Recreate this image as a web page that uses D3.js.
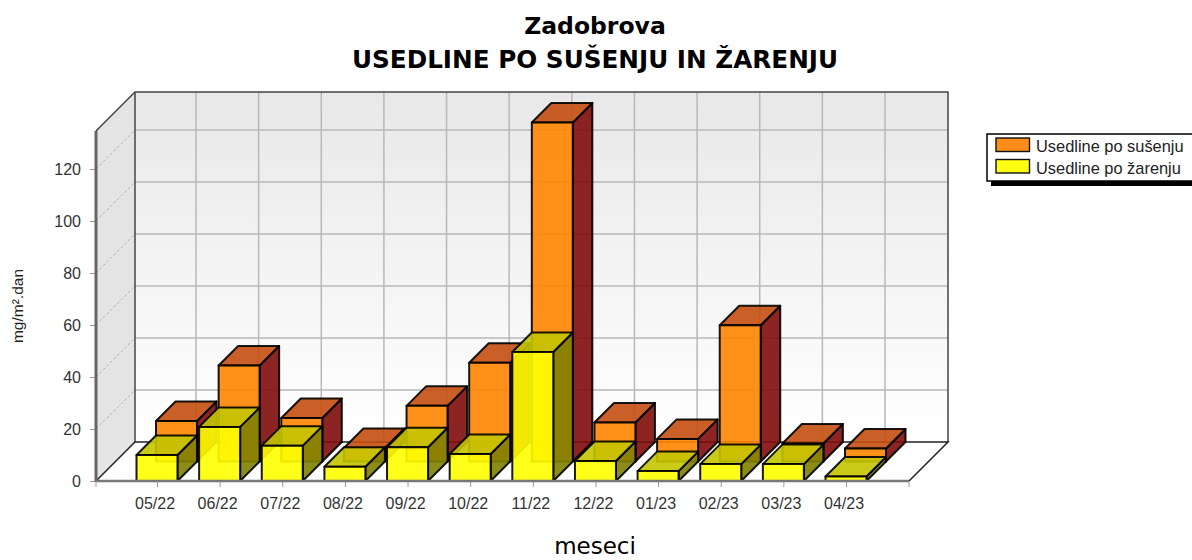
<!DOCTYPE html>
<html>
<head>
<meta charset="utf-8">
<script src="https://cdnjs.cloudflare.com/ajax/libs/d3/7.8.5/d3.min.js"></script>
<style>
html, body { margin: 0; padding: 0; background: #fff; overflow: hidden; }
svg { display: block; }
.tick text { font-family: "Liberation Sans", sans-serif; font-size: 16px; fill: #333; }
</style>
</head>
<body>
<svg width="1192" height="560"></svg>
<script>
var months = ["05/22", "06/22", "07/22", "08/22", "09/22", "10/22", "11/22", "12/22", "01/23", "02/23", "03/23", "04/23"];
var susenje = [15.6, 36.9, 16.7, 5.2, 21.4, 38, 130.4, 15, 8.7, 52.4, 6.9, 5];
var zarenje = [10, 20.8, 13.6, 5.5, 13, 10.4, 49.6, 7.7, 3.8, 6.5, 6.5, 1.7];
var yTicks = [0, 20, 40, 60, 80, 100, 120];
var seriesNames = ["Usedline po sušenju", "Usedline po žarenju"];

function main() {
    var svg = d3.select("svg");

    var left = 96, right = 909, bottom = 481, top = 131, depth = 39;
    var barWidth = 41;

    var x = d3.scalePoint().domain(months).range([157, 846]);
    var y = d3.scaleLinear().domain([0, 134.6]).range([bottom, top]);

    var defs = svg.append("defs");
    var grad = defs.append("linearGradient")
        .attr("id", "wall")
        .attr("x1", 0).attr("y1", 0).attr("x2", 0).attr("y2", 1);
    grad.append("stop").attr("offset", "0%").attr("stop-color", "#e8e8e8");
    grad.append("stop").attr("offset", "100%").attr("stop-color", "#ffffff");

    // back wall, left wall, floor
    svg.append("rect")
        .attr("x", left + depth).attr("y", top - depth)
        .attr("width", right - left).attr("height", bottom - top)
        .attr("fill", "url(#wall)");
    svg.append("path")
        .attr("d", poly([[left, top], [left + depth, top - depth], [left + depth, bottom - depth], [left, bottom]]))
        .attr("fill", "#e4e4e4");
    svg.append("path")
        .attr("d", poly([[left, bottom], [left + depth, bottom - depth], [right + depth, bottom - depth], [right, bottom]]))
        .attr("fill", "#fff");

    // grid on back wall
    svg.append("g").selectAll("line")
        .data(yTicks.slice(1))
        .enter().append("line")
        .attr("x1", left + depth).attr("x2", right + depth)
        .attr("y1", function(d) { return y(d) - depth; })
        .attr("y2", function(d) { return y(d) - depth; })
        .attr("stroke", "#b8b8b8").attr("stroke-width", 1.5);
    svg.append("g").selectAll("line")
        .data(months.slice(0, 12))
        .enter().append("line")
        .attr("x1", function(d) { return x(d) + depth; })
        .attr("x2", function(d) { return x(d) + depth; })
        .attr("y1", top - depth)
        .attr("y2", bottom - depth)
        .attr("stroke", "#b8b8b8").attr("stroke-width", 1.5);

    // dashed grid on left wall
    svg.append("g").selectAll("line")
        .data(yTicks.slice(1))
        .enter().append("line")
        .attr("x1", left).attr("x2", left + depth)
        .attr("y1", function(d) { return y(d); })
        .attr("y2", function(d) { return y(d) - depth; })
        .attr("stroke", "#b4b4b4").attr("stroke-dasharray", "3,2");

    // frame lines
    svg.append("path")
        .attr("d", poly([[left, top], [left + depth, top - depth], [right + depth, top - depth], [right + depth, bottom - depth]], true))
        .attr("fill", "none").attr("stroke", "#444").attr("stroke-width", 1.5);
    svg.append("line")
        .attr("x1", left + depth).attr("x2", left + depth)
        .attr("y1", top - depth).attr("y2", bottom - depth)
        .attr("stroke", "#444").attr("stroke-width", 1.5);
    svg.append("path")
        .attr("d", poly([[left, bottom], [left + depth, bottom - depth], [right + depth, bottom - depth], [right, bottom]], true))
        .attr("fill", "none").attr("stroke", "#222").attr("stroke-width", 1.5);

    // bars, orange row stands behind the yellow one
    drawBars(susenje, depth / 2, { front: "#ff8400", top: "#c44f10", side: "#7f0c0c" });
    drawBars(zarenje, 0, { front: "#ffff00", top: "#c4c400", side: "#7f7f00" });

    function drawBars(values, off, col) {
        var d2 = depth / 2;
        var bars = svg.append("g").selectAll("g")
            .data(values)
            .enter().append("g")
            .attr("fill-opacity", 0.9)
            .attr("stroke", "#000")
            .attr("stroke-opacity", 0.9)
            .attr("stroke-width", 2)
            .attr("stroke-linejoin", "round");
        function x0(d, i) { return x(months[i]) - barWidth / 2 + off; }
        function y0(d) { return y(d) - off; }
        var base = bottom - off;
        bars.append("path")
            .attr("fill", col.side)
            .attr("d", function(d, i) {
                var a = x0(d, i) + barWidth, t = y0(d);
                return poly([[a, t], [a + d2, t - d2], [a + d2, base - d2], [a, base]]);
            });
        bars.append("path")
            .attr("fill", col.top)
            .attr("d", function(d, i) {
                var a = x0(d, i), t = y0(d);
                return poly([[a, t], [a + d2, t - d2], [a + barWidth + d2, t - d2], [a + barWidth, t]]);
            });
        bars.append("rect")
            .attr("fill", col.front)
            .attr("x", x0)
            .attr("y", y0)
            .attr("width", barWidth)
            .attr("height", function(d) { return base - y0(d); });
    }

    // axes
    var yAxis = d3.axisLeft(y).tickValues(yTicks).tickSize(6).tickPadding(9);
    var gy = svg.append("g").attr("transform", "translate(" + left + ",0)").call(yAxis);
    gy.select(".domain").remove();
    gy.selectAll("line").attr("stroke", "#999");
    gy.selectAll("text").attr("dy", "0.36em");
    svg.append("line")
        .attr("x1", left).attr("x2", left).attr("y1", top).attr("y2", bottom + 1)
        .attr("stroke", "#666").attr("stroke-width", 3);

    var xAxis = d3.axisBottom(x).tickSize(6).tickPadding(11);
    var gx = svg.append("g").attr("transform", "translate(0," + bottom + ")").call(xAxis);
    gx.select(".domain").remove();
    gx.selectAll("line").attr("stroke", "#999");
    gx.selectAll("text").attr("dx", -2.5);
    svg.append("line")
        .attr("x1", left).attr("x2", right).attr("y1", bottom).attr("y2", bottom)
        .attr("stroke", "#777").attr("stroke-width", 2.5);
    [left, right].forEach(function(px) {
        svg.append("line")
            .attr("x1", px).attr("x2", px).attr("y1", bottom).attr("y2", bottom + 6)
            .attr("stroke", "#999");
    });

    // titles
    var titleFont = '"DejaVu Sans", sans-serif';
    svg.append("text")
        .attr("x", 595).attr("y", 34)
        .attr("text-anchor", "middle")
        .attr("font-family", titleFont).attr("font-weight", "bold").attr("font-size", 23.5)
        .text("Zadobrova");
    svg.append("text")
        .attr("x", 595).attr("y", 68)
        .attr("text-anchor", "middle")
        .attr("font-family", titleFont).attr("font-weight", "bold").attr("font-size", 24.7)
        .text("USEDLINE PO SUŠENJU IN ŽARENJU");
    svg.append("text")
        .attr("x", 595).attr("y", 554)
        .attr("text-anchor", "middle")
        .attr("font-family", titleFont).attr("font-size", 23)
        .text("meseci");
    svg.append("text")
        .attr("transform", "translate(23,306) rotate(-90)")
        .attr("text-anchor", "middle")
        .attr("font-family", '"Liberation Sans", sans-serif').attr("font-size", 15.5)
        .attr("fill", "#222")
        .text("mg/m².dan");

    // legend
    var legend = svg.append("g");
    legend.append("rect").attr("x", 991).attr("y", 139).attr("width", 210).attr("height", 47).attr("fill", "#000");
    legend.append("rect").attr("x", 987).attr("y", 134).attr("width", 210).attr("height", 47)
        .attr("fill", "#fff").attr("stroke", "#000").attr("stroke-width", 1.5);
    var swatch = ["#ff8c1a", "#ffff14"];
    seriesNames.forEach(function(name, i) {
        legend.append("rect")
            .attr("x", 996).attr("y", 138 + i * 21.5).attr("width", 33.5).attr("height", 13.5)
            .attr("fill", swatch[i]).attr("stroke", "#111").attr("stroke-width", 1.4);
        legend.append("text")
            .attr("x", 1036).attr("y", 151.5 + i * 22)
            .attr("font-family", '"Liberation Sans", sans-serif').attr("font-size", 16.4)
            .attr("fill", "#222")
            .text(name);
    });
}

function poly(pts, open) {
    return "M" + pts.map(function(p) { return p.join(","); }).join("L") + (open ? "" : "Z");
}

main();
</script>
</body>
</html>
